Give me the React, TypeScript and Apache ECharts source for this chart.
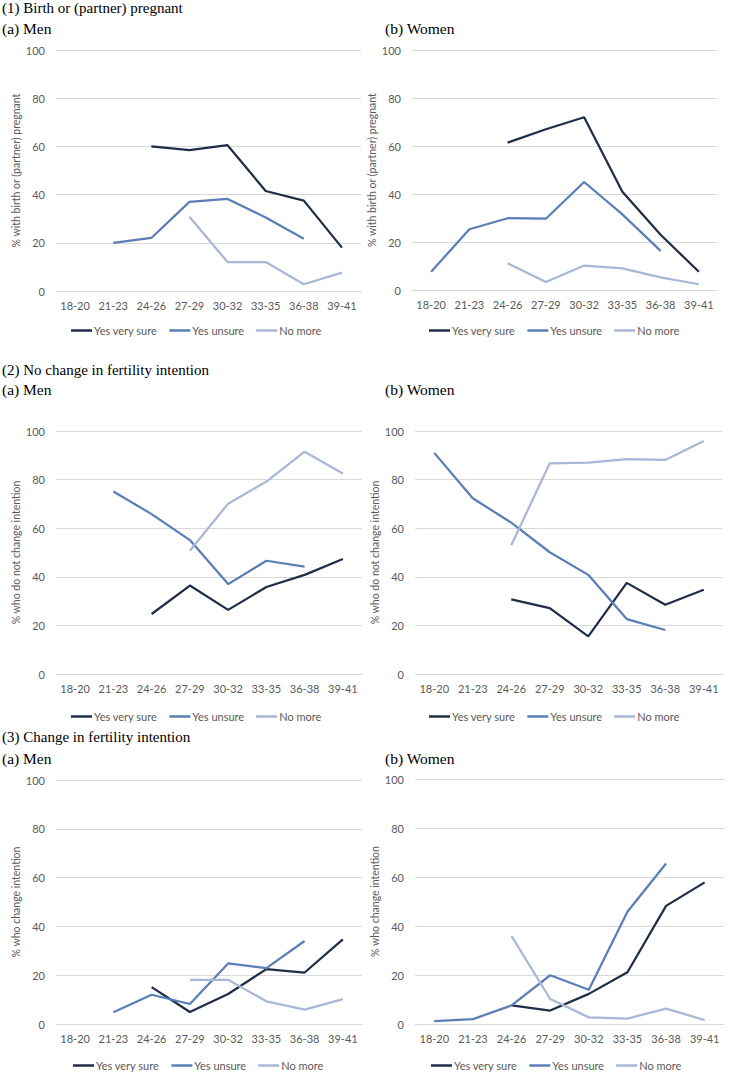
import React, { useEffect, useRef } from "react";
import * as echarts from "echarts";

const categories = ["18-20", "21-23", "24-26", "27-29", "30-32", "33-35", "36-38", "39-41"];
const seriesNames = ["Yes very sure", "Yes unsure", "No more"];
const yTicks = [0, 20, 40, 60, 80, 100];

// (1) Birth or (partner) pregnant
const birthMenVerySure = [null, null, 60, 58.5, 60.5, 41.5, 37.5, 18];
const birthMenUnsure = [null, 20, 22, 37, 38.2, 30.5, 21.7, null];
const birthMenNoMore = [null, null, null, 30.8, 12, 12, 2.8, 7.6];
const birthWomenVerySure = [null, null, 61.4, 67, 72, 40.9, 23, 7.6];
const birthWomenUnsure = [7.6, 25.3, 29.9, 29.7, 45, 31.5, 16.3, null];
const birthWomenNoMore = [null, null, 11.1, 3.3, 10.2, 9, 5.3, 2.4];

// (2) No change in fertility intention
const noChangeMenVerySure = [null, null, 24.7, 36.4, 26.4, 35.8, 40.8, 47.3];
const noChangeMenUnsure = [null, 75.1, 65.8, 55.1, 37, 46.6, 44.2, null];
const noChangeMenNoMore = [null, null, null, 50.7, 70.1, 79.2, 91.5, 82.5];
const noChangeWomenVerySure = [null, null, 30.7, 27.1, 15.5, 37.5, 28.5, 34.7];
const noChangeWomenUnsure = [91, 72.3, 62.3, 50.1, 40.8, 22.6, 18.1, null];
const noChangeWomenNoMore = [null, null, 53, 86.7, 87, 88.4, 88.1, 95.9];

// (3) Change in fertility intention
const changeMenVerySure = [null, null, 15.1, 4.9, 12.3, 22.5, 21.1, 34.7];
const changeMenUnsure = [null, 4.8, 12, 8.2, 24.8, 22.9, 34, null];
const changeMenNoMore = [null, null, null, 18.1, 18.1, 9.3, 5.9, 10.2];
const changeWomenVerySure = [null, null, 7.6, 5.5, 12.3, 21.1, 48.2, 57.8];
const changeWomenUnsure = [1.2, 2, 7.6, 19.9, 14, 45.8, 65.5, null];
const changeWomenNoMore = [null, null, 35.9, 10.2, 2.7, 2.2, 6.3, 1.6];

const sectionTitles = [
  "(1) Birth or (partner) pregnant",
  "(2) No change in fertility intention",
  "(3) Change in fertility intention",
];
const panelTitles = ["(a) Men", "(b) Women"];
const yNames = [
  "% with birth or (partner) pregnant",
  "% who do not change intention",
  "% who change intention",
];

const panelData = [
  [birthMenVerySure, birthMenUnsure, birthMenNoMore],
  [birthWomenVerySure, birthWomenUnsure, birthWomenNoMore],
  [noChangeMenVerySure, noChangeMenUnsure, noChangeMenNoMore],
  [noChangeWomenVerySure, noChangeWomenUnsure, noChangeWomenNoMore],
  [changeMenVerySure, changeMenUnsure, changeMenNoMore],
  [changeWomenVerySure, changeWomenUnsure, changeWomenNoMore],
];

const COLORS = ["#1F2E46", "#5A7EB5", "#A8B7D5"];
const TEXT = "#595959";
const SANS = "Lato, 'Noto Sans', sans-serif";
const SERIF = "'Liberation Serif', 'DejaVu Serif', serif";

// layout (pixels)
const grids = [
  { left: 56, top: 50, width: 305, height: 241 },
  { left: 412, top: 50, width: 306, height: 240 },
  { left: 56, top: 431, width: 306, height: 243 },
  { left: 415, top: 431, width: 308, height: 243 },
  { left: 56, top: 780, width: 306, height: 244 },
  { left: 415, top: 779, width: 309, height: 245 },
];
const legendPos = [
  { left: 66, top: 320 },
  { left: 424, top: 320 },
  { left: 66, top: 706 },
  { left: 424, top: 706 },
  { left: 68, top: 1055 },
  { left: 426, top: 1055 },
];
const sectionTitlePos = [
  { x: 2, y: 7.5 },
  { x: 2, y: 369.5 },
  { x: 2, y: 737 },
];
const panelTitlePos = [
  { x: 2, y: 28 },
  { x: 385, y: 28 },
  { x: 2, y: 389 },
  { x: 385, y: 389 },
  { x: 2, y: 758 },
  { x: 385, y: 758 },
];

export default function App() {
  const ref = useRef<HTMLDivElement>(null);
  useEffect(() => {
    if (!ref.current) return;
    document.body.style.margin = "0";
    const chart = echarts.init(ref.current, undefined, { renderer: "svg" });

    const grid = grids.map((g) => ({ ...g, containLabel: false }));
    const xAxis = grids.map((_, i) => ({
      type: "category",
      gridIndex: i,
      data: categories,
      boundaryGap: true,
      axisLine: { show: true, lineStyle: { color: "#D9D9D9", width: 1 } },
      axisTick: { show: false },
      axisLabel: { color: TEXT, fontSize: 11, fontFamily: SANS, margin: 9, interval: 0 },
      splitLine: { show: false },
    }));
    const yAxis = grids.map((_, i) => ({
      type: "value",
      gridIndex: i,
      min: 0,
      max: 100,
      interval: 20,
      name: yNames[Math.floor(i / 2)],
      nameLocation: "middle",
      nameRotate: 90,
      nameGap: 29,
      nameTextStyle: { color: TEXT, fontSize: 10.5, fontFamily: SANS },
      axisLine: { show: false },
      axisTick: { show: false },
      axisLabel: {
        color: TEXT,
        fontSize: 11,
        fontFamily: SANS,
        margin: 11,
        formatter: (v: number) => (yTicks.includes(v) ? String(v) : ""),
      },
      splitLine: { show: true, lineStyle: { color: "#D9D9D9", width: 1 } },
    }));

    const series: any[] = [];
    panelData.forEach((sets, i) => {
      sets.forEach((vals, k) => {
        series.push({
          type: "line",
          name: seriesNames[k],
          xAxisIndex: i,
          yAxisIndex: i,
          data: vals,
          symbol: "none",
          connectNulls: false,
          lineStyle: { color: COLORS[k], width: 2.25 },
          itemStyle: { color: COLORS[k] },
          z: 2 + k,
        });
      });
    });

    const legend = legendPos.map((p) => ({
      left: p.left,
      top: p.top,
      orient: "horizontal",
      data: seriesNames,
      icon: "rect",
      itemWidth: 21,
      itemHeight: 2.5,
      itemGap: 12,
      selectedMode: false,
      textStyle: { color: TEXT, fontSize: 11, fontFamily: SANS, padding: [0, 0, 0, -3] },
    }));

    const graphic: any[] = [];
    sectionTitles.forEach((t, i) => {
      graphic.push({
        type: "text",
        x: sectionTitlePos[i].x,
        y: sectionTitlePos[i].y,
        style: { text: t, fill: "#000", fontSize: 15, fontFamily: SERIF, verticalAlign: "middle", align: "left" },
      });
    });
    panelTitlePos.forEach((p, i) => {
      graphic.push({
        type: "text",
        x: p.x,
        y: p.y,
        style: { text: panelTitles[i % 2], fill: "#000", fontSize: 15.5, fontFamily: SERIF, verticalAlign: "middle", align: "left" },
      });
    });

    chart.setOption({
      animation: false,
      backgroundColor: "#FFFFFF",
      grid,
      xAxis,
      yAxis,
      series,
      legend,
      graphic,
    });
    return () => chart.dispose();
  }, []);
  return (
    <div
      ref={ref}
      style={{ position: "absolute", left: 0, top: 0, width: 737, height: 1078 }}
    />
  );
}
